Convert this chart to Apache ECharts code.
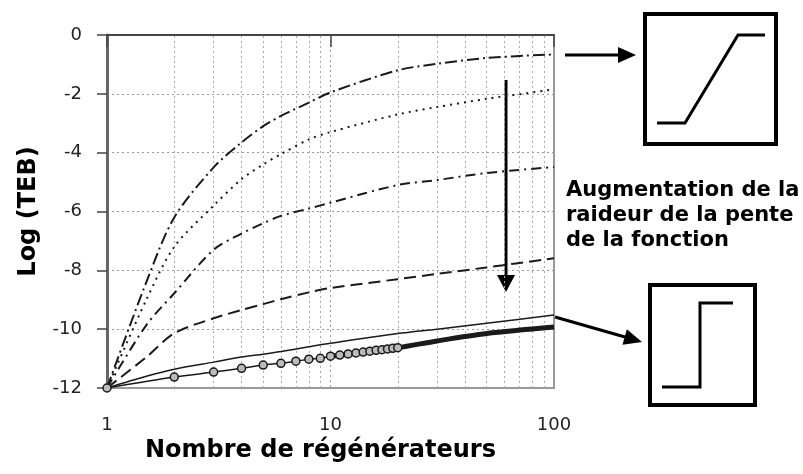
<!DOCTYPE html>
<html>
<head>
<meta charset="utf-8">
<script src="https://cdn.jsdelivr.net/npm/echarts@6/dist/echarts.min.js"></script>
<style>
  html, body { margin: 0; padding: 0; background: #fff; }
  #chart { width: 803px; height: 474px; }
</style>
</head>
<body>
<div id="chart"></div>
<script>
// x positions (nombre de régénérateurs) shared by the curves
const xPts = [1, 1.5, 2, 3, 4, 5, 6, 8, 10, 20, 30, 50, 100];

// log(TEB), top curve first
const curveDashDotLong = [-12, -8.4, -6.2, -4.5, -3.65, -3.1, -2.75, -2.3, -1.95, -1.2, -0.98, -0.78, -0.66];
const curveDotted      = [-12, -9.0, -7.2, -5.8, -4.9, -4.4, -4.05, -3.55, -3.3, -2.7, -2.45, -2.17, -1.85];
const curveDashDot     = [-12, -9.86, -8.78, -7.3, -6.75, -6.4, -6.15, -5.9, -5.7, -5.1, -4.93, -4.69, -4.49];
const curveDashed      = [-12, -10.95, -10.14, -9.63, -9.35, -9.15, -8.98, -8.75, -8.6, -8.3, -8.12, -7.9, -7.59];
const curveSolid       = [-12, -11.6, -11.36, -11.12, -10.95, -10.85, -10.76, -10.6, -10.48, -10.15, -10.0, -9.8, -9.52];

// circles (one per regenerator count) then the thick part where they merge
const circleX = [1, 2, 3, 4, 5, 6, 7, 8, 9, 10, 11, 12, 13, 14, 15, 16, 17, 18, 19, 20];
const circleY = [-12, -11.63, -11.46, -11.33, -11.22, -11.16, -11.09, -11.02, -10.99, -10.92,
                 -10.88, -10.84, -10.81, -10.78, -10.75, -10.72, -10.7, -10.67, -10.65, -10.63];
const thickX = [10, 20, 30, 50, 100];
const thickY = [-10.92, -10.63, -10.4, -10.15, -9.93];

// dotted vertical grid (minor decades)
const minorX = [2, 3, 4, 5, 6, 7, 8, 9, 20, 30, 40, 50, 60, 70, 80, 90];

const INK = '#1a1a1a';
const FONT = 'DejaVu Sans';

const pairs = (xs, ys) => xs.map((x, i) => [x, ys[i]]);

function curve(name, ys, type, width) {
  return {
    name, type: 'line',
    data: pairs(xPts, ys),
    smooth: 0.3,
    symbol: 'none',
    lineStyle: { color: INK, width, type },
    z: 3,
  };
}

const chart = echarts.init(document.getElementById('chart'));

chart.setOption({
  backgroundColor: '#fff',
  animation: false,
  grid: {
    left: 107, top: 35, right: 249, bottom: 86,
    show: true, borderColor: '#999', borderWidth: 2,
  },
  xAxis: {
    type: 'log', logBase: 10, min: 1, max: 100,
    name: 'Nombre de régénérateurs',
    nameLocation: 'middle', nameGap: 50,
    nameTextStyle: { fontFamily: FONT, fontWeight: 'bold', fontSize: 24, color: '#000', padding: [0, 20, 0, 0] },
    axisLine: { lineStyle: { color: '#444', width: 2 } },
    axisTick: { show: true, length: 12, lineStyle: { color: '#444', width: 1.5 } },
    axisLabel: { fontFamily: FONT, fontSize: 18, color: '#222', margin: 28 },
    splitLine: { show: true, lineStyle: { color: '#999', type: [2, 3], width: 1 } },
  },
  yAxis: {
    type: 'value', min: -12, max: 0, interval: 2,
    name: 'Log (TEB)',
    nameLocation: 'middle', nameGap: 66, nameRotate: 90,
    nameTextStyle: { fontFamily: FONT, fontWeight: 'bold', fontSize: 24, color: '#000' },
    axisLine: { show: true, lineStyle: { color: '#666', width: 3 } },
    axisTick: { show: true, length: 10, lineStyle: { color: '#444', width: 1.5 } },
    axisLabel: { fontFamily: FONT, fontSize: 18, color: '#222', margin: 25 },
    splitLine: { show: true, lineStyle: { color: '#999', type: [2, 3], width: 1 } },
  },
  series: [
    curve('c1', curveDashDotLong, [12, 4, 2, 4], 2),
    curve('c2', curveDotted, [2, 5], 2),
    curve('c3', curveDashDot, [10, 5, 2, 5], 2),
    curve('c4', curveDashed, [12, 6], 2),
    {
      ...curve('c5', curveSolid, 'solid', 1.5),
      markLine: {
        silent: true, symbol: 'none', label: { show: false },
        lineStyle: { color: '#aaa', type: [2, 3], width: 1 },
        data: minorX.map(x => ({ xAxis: x })),
        z: 1,
      },
    },
    {
      name: 'thick', type: 'line',
      data: pairs(thickX, thickY),
      smooth: 0.3, symbol: 'none',
      lineStyle: { color: INK, width: 5 },
      z: 3,
    },
    {
      name: 'circles', type: 'line',
      data: pairs(circleX, circleY),
      smooth: 0.3, symbol: 'circle', symbolSize: 8,
      lineStyle: { color: INK, width: 1.5 },
      itemStyle: { color: '#bbb', borderColor: INK, borderWidth: 1.5 },
      z: 4,
    },
  ],
  graphic: [
    // arrow toward the soft-slope function
    { type: 'line', shape: { x1: 565, y1: 55, x2: 620, y2: 55 }, style: { stroke: '#000', lineWidth: 3 } },
    { type: 'polygon', shape: { points: [[618, 47], [636, 55], [618, 63]] }, style: { fill: '#000' } },
    { type: 'rect', shape: { x: 645, y: 14, width: 131, height: 130 }, style: { fill: 'none', stroke: '#000', lineWidth: 4 } },
    { type: 'polyline', shape: { points: [[657, 123], [685, 123], [738, 35], [765, 35]] }, style: { fill: 'none', stroke: '#000', lineWidth: 3 } },

    // vertical arrow inside the plot
    { type: 'line', shape: { x1: 506, y1: 80, x2: 506, y2: 277 }, style: { stroke: '#000', lineWidth: 3 } },
    { type: 'polygon', shape: { points: [[497, 275], [515, 275], [506, 292]] }, style: { fill: '#000' } },

    {
      type: 'text', x: 566, y: 178,
      style: {
        text: 'Augmentation de la\nraideur de la pente\nde la fonction',
        font: 'bold 21px "DejaVu Sans"', fill: '#000', lineHeight: 25,
        textAlign: 'left', textVerticalAlign: 'top',
      },
    },

    // arrow toward the step function
    { type: 'line', shape: { x1: 555, y1: 317, x2: 625, y2: 337 }, style: { stroke: '#000', lineWidth: 3 } },
    { type: 'polygon', shape: { points: [[622.5, 344.7], [642, 342], [626.9, 329.3]] }, style: { fill: '#000' } },
    { type: 'rect', shape: { x: 650, y: 285, width: 105, height: 120 }, style: { fill: 'none', stroke: '#000', lineWidth: 4 } },
    { type: 'polyline', shape: { points: [[662, 387], [700, 387], [700, 303], [733, 303]] }, style: { fill: 'none', stroke: '#000', lineWidth: 3 } },
  ],
});
</script>
</body>
</html>
